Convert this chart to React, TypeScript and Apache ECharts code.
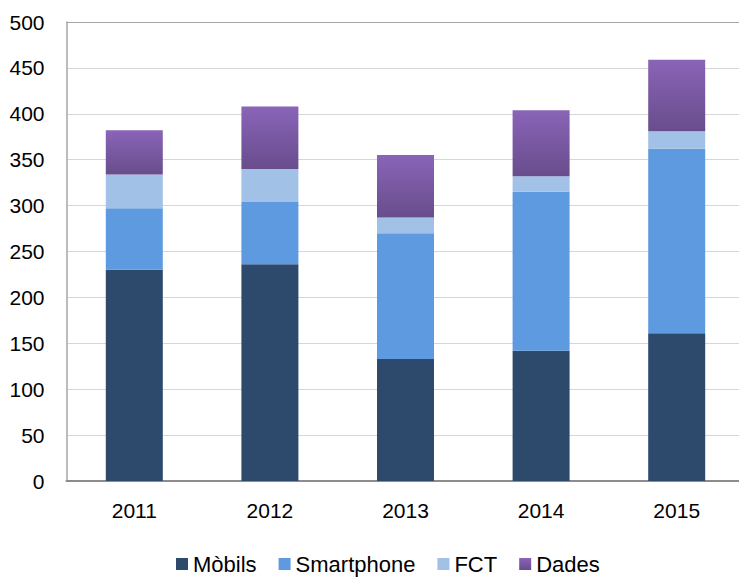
import React, { useEffect, useRef } from "react";
import * as echarts from "echarts";

const years = ["2011", "2012", "2013", "2014", "2015"];
const mobils = [230, 236, 133, 142, 161];
const smartphone = [67, 68, 137, 173, 201];
const fct = [37, 36, 17, 17, 19];
const dades = [48, 68, 68, 72, 78];

const FONT = "'Liberation Sans', Arial, sans-serif";

export default function App() {
  const ref = useRef<HTMLDivElement>(null);
  useEffect(() => {
    if (!ref.current) return;
    const chart = echarts.init(ref.current, null, { renderer: "svg" });
    const gridColors = ["#bdbdbd", "#d6d6d6", "#d6d6d6", "#d6d6d6", "#d6d6d6", "#d6d6d6", "#d6d6d6", "#d6d6d6", "#d6d6d6", "#d6d6d6", "#a6a6a6"];
    chart.setOption({
      animation: false,
      grid: { left: 66.5, width: 678, top: 22, bottom: 97, containLabel: false },
      legend: {
        top: 548,
        left: 171,
        itemWidth: 12,
        itemHeight: 12,
        itemGap: 22,
        icon: "rect",
        textStyle: { fontFamily: FONT, fontSize: 22, color: "#000" },
        data: ["Mòbils", "Smartphone", "FCT", "Dades"],
      },
      xAxis: {
        type: "category",
        data: years,
        axisLine: { lineStyle: { color: "#8c8c8c", width: 2 } },
        axisTick: { show: false },
        axisLabel: { fontFamily: FONT, fontSize: 21, color: "#000", margin: 19 },
      },
      yAxis: {
        type: "value",
        min: 0,
        max: 500,
        interval: 50,
        axisLine: { show: true, lineStyle: { color: "#a6a6a6", width: 1.5 } },
        axisTick: { show: false },
        axisLabel: { fontFamily: FONT, fontSize: 21, color: "#000", margin: 22 },
        splitLine: { lineStyle: { color: gridColors, width: 1 } },
      },
      series: [
        {
          name: "Mòbils",
          type: "bar",
          stack: "total",
          barWidth: 57,
          data: mobils,
          itemStyle: { color: "#2D4A6D" },
        },
        {
          name: "Smartphone",
          type: "bar",
          stack: "total",
          data: smartphone,
          itemStyle: { color: "#5E9AE0" },
        },
        {
          name: "FCT",
          type: "bar",
          stack: "total",
          data: fct,
          itemStyle: { color: "#A1C1E6" },
        },
        {
          name: "Dades",
          type: "bar",
          stack: "total",
          data: dades,
          itemStyle: {
            color: new echarts.graphic.LinearGradient(0, 0, 0, 1, [
              { offset: 0, color: "#8A64B8" },
              { offset: 1, color: "#684D8C" },
            ]),
          },
        },
      ],
    });
    return () => chart.dispose();
  }, []);
  return (
    <div style={{ width: 739, height: 578, position: "absolute", left: 0, top: 0, overflow: "hidden" }}>
      <div ref={ref} style={{ width: 750, height: 578 }} />
    </div>
  );
}
